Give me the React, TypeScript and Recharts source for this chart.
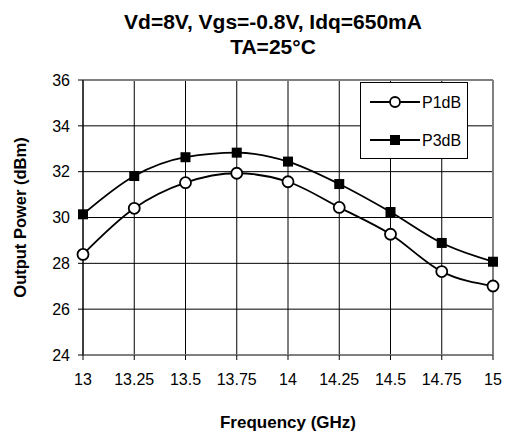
import React from "react"
import { LineChart, Line, XAxis, YAxis, CartesianGrid, ReferenceLine, Legend, Label } from "recharts"

const frequency = [13, 13.25, 13.5, 13.75, 14, 14.25, 14.5, 14.75, 15]
const p1dB = [28.39, 30.4, 31.52, 31.93, 31.56, 30.44, 29.27, 27.64, 27.01]
const p3dB = [30.14, 31.81, 32.63, 32.83, 32.44, 31.46, 30.24, 28.89, 28.07]
const xTicks = [13, 13.25, 13.5, 13.75, 14, 14.25, 14.5, 14.75, 15]
const yTicks = [24, 26, 28, 30, 32, 34, 36]

const data = frequency.map((f, i) => ({ f, p1: p1dB[i], p3: p3dB[i] }))

const FONT = "'Liberation Sans', Arial, sans-serif"

function CircleDot(props: any) {
  const { cx, cy } = props
  if (cx == null || cy == null) return null
  return <circle cx={cx} cy={cy} r={5.5} fill="#fff" stroke="#000" strokeWidth={1.8} />
}

function SquareDot(props: any) {
  const { cx, cy } = props
  if (cx == null || cy == null) return null
  return <rect x={cx - 5} y={cy - 5} width={10} height={10} fill="#000" />
}

function LegendBox() {
  return (
    <svg width={108} height={77} style={{ display: "block" }}>
      <rect x={0.5} y={0.5} width={107} height={76} fill="#fff" stroke="#000" />
      <line x1={10} x2={60} y1={20} y2={20} stroke="#000" strokeWidth={1.8} />
      <circle cx={35} cy={20} r={5} fill="#fff" stroke="#000" strokeWidth={1.8} />
      <text x={62} y={26} fontSize={16} fontFamily={FONT} fill="#000">P1dB</text>
      <line x1={10} x2={60} y1={58} y2={58} stroke="#000" strokeWidth={1.8} />
      <rect x={30} y={53} width={10} height={10} fill="#000" />
      <text x={62} y={64} fontSize={16} fontFamily={FONT} fill="#000">P3dB</text>
    </svg>
  )
}

export default function App() {
  return (
    <div style={{ position: "absolute", left: 0, top: 0, width: 505, height: 436, background: "#fff", fontFamily: FONT }}>
      <div style={{ position: "absolute", left: 0, width: 546, top: 9, textAlign: "center", fontWeight: "bold", fontSize: 21, lineHeight: "25px", color: "#000" }}>
        Vd=8V, Vgs=-0.8V, Idq=650mA
        <br />
        TA=25°C
      </div>
      <LineChart width={505} height={436} data={data} margin={{ top: 80, right: 12, bottom: 31, left: 0 }}>
        <CartesianGrid stroke="#000" strokeWidth={1} />
        <XAxis
          dataKey="f"
          type="number"
          domain={[13, 15]}
          ticks={xTicks}
          height={50}
          stroke="#808080"
          strokeWidth={2}
          tickLine={{ stroke: "#000", strokeWidth: 1 }}
          tickSize={5}
          tick={{ fill: "#000", fontSize: 16, fontFamily: FONT }}
          tickMargin={14}
        >
          <Label
            value="Frequency (GHz)"
            position="bottom"
            offset={11}
            style={{ fontWeight: "bold", fontSize: 17, fill: "#000", fontFamily: FONT }}
          />
        </XAxis>
        <YAxis
          type="number"
          domain={[24, 36]}
          ticks={yTicks}
          width={83}
          stroke="#000"
          tickLine={{ stroke: "#000" }}
          tickSize={5}
          tick={{ fill: "#000", fontSize: 16, fontFamily: FONT }}
          tickMargin={8}
        >
          <Label
            value="Output Power (dBm)"
            angle={-90}
            position="insideLeft"
            offset={20}
            style={{ fontWeight: "bold", fontSize: 16.5, fill: "#000", fontFamily: FONT, textAnchor: "middle" }}
          />
        </YAxis>
        <ReferenceLine y={36} stroke="#808080" strokeWidth={2} />
        <ReferenceLine x={15} stroke="#808080" strokeWidth={2} />
        <Legend
          layout="horizontal"
          verticalAlign="middle"
          align="center"
          content={() => <LegendBox />}
          wrapperStyle={{ position: "absolute", left: 360, top: 82, width: 108, height: 77 }}
        />
        <Line
          type="monotone"
          dataKey="p1"
          name="P1dB"
          stroke="#000"
          strokeWidth={1.8}
          dot={<CircleDot />}
          activeDot={false}
          isAnimationActive={false}
        />
        <Line
          type="monotone"
          dataKey="p3"
          name="P3dB"
          stroke="#000"
          strokeWidth={1.8}
          dot={<SquareDot />}
          activeDot={false}
          isAnimationActive={false}
        />
      </LineChart>
    </div>
  )
}
